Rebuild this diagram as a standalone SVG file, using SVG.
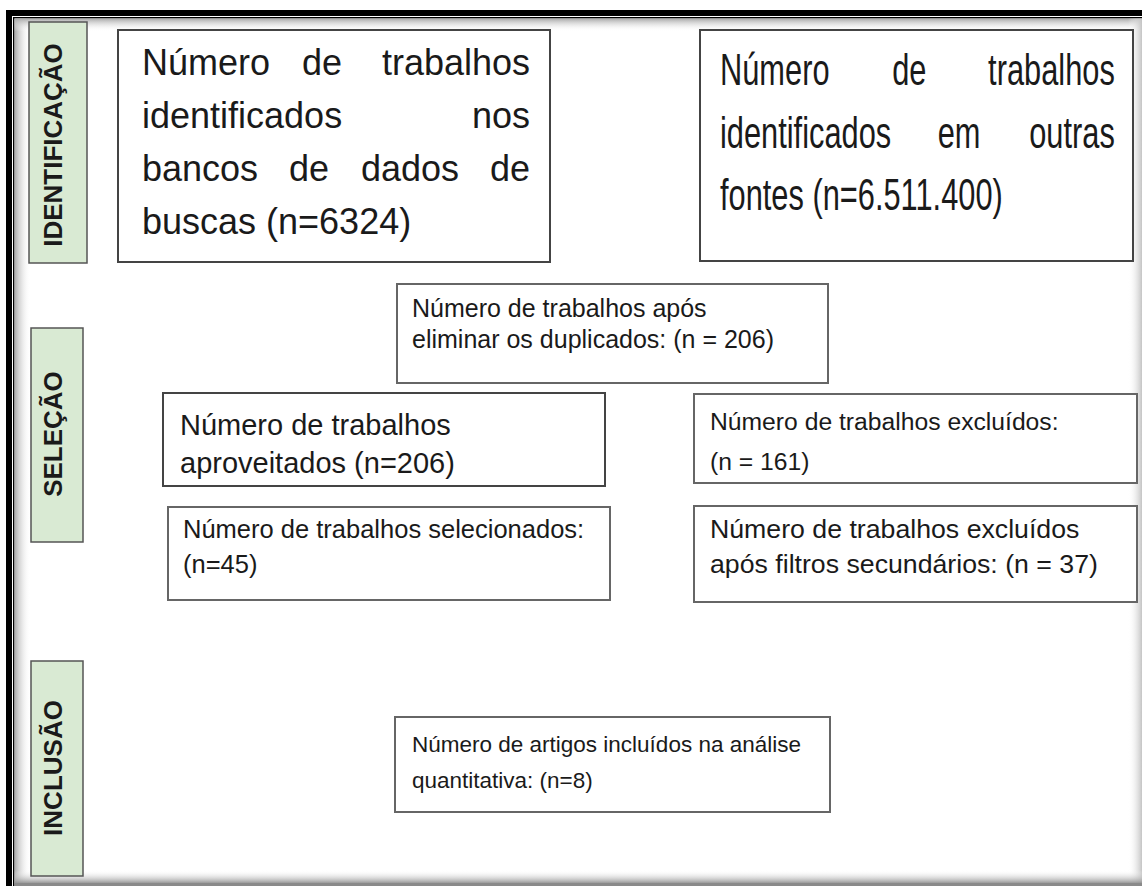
<svg xmlns="http://www.w3.org/2000/svg" width="1142" height="886" viewBox="0 0 1142 886">
<defs>
<linearGradient id="gl" x1="0" y1="0" x2="1" y2="0"><stop offset="0" stop-color="#a8a8a8"/><stop offset="1" stop-color="#fff" stop-opacity="0"/></linearGradient>
<linearGradient id="gt" x1="0" y1="0" x2="0" y2="1"><stop offset="0" stop-color="#a8a8a8"/><stop offset="1" stop-color="#fff" stop-opacity="0"/></linearGradient>
<linearGradient id="gr" x1="0" y1="0" x2="1" y2="0"><stop offset="0" stop-color="#fff" stop-opacity="0"/><stop offset="1" stop-color="#c4c4c4"/></linearGradient>
<linearGradient id="gb" x1="0" y1="0" x2="0" y2="1"><stop offset="0" stop-color="#fff" stop-opacity="0"/><stop offset="1" stop-color="#8a8a8a"/></linearGradient>
<style>
.box{fill:#fff;stroke:#666;stroke-width:2}
.dark{stroke:#444}
.lab{fill:#d9ead3;stroke:#555;stroke-width:1.5}
.lt{font-family:"Liberation Sans",Arial,sans-serif;font-weight:bold;font-size:26px;fill:#1a1a1a;text-anchor:middle}
.t{font-family:"Liberation Sans",Arial,sans-serif;fill:#1a1a1a}
.e{text-anchor:end}
</style>
</defs>
<rect x="0" y="0" width="1142" height="886" fill="#fff"/>
<g id="frame">
<rect x="9" y="13" width="1140" height="880" fill="none" stroke="#000" stroke-width="6"/>
<rect x="13.75" y="17.75" width="1140" height="880" fill="none" stroke="#000" stroke-width="1.5"/>
<rect x="14.5" y="18.5" width="16" height="866" fill="url(#gl)"/>
<rect x="14.5" y="18.5" width="1128" height="13" fill="url(#gt)"/>
<rect x="1128" y="18.5" width="14" height="868" fill="url(#gr)"/>
<rect x="14.5" y="870" width="1128" height="14" fill="url(#gb)"/>
<rect x="14.5" y="883" width="1128" height="3" fill="#8a8a8a"/>
</g>
<g id="label-identificacao">
<rect class="lab" x="29" y="22" width="58" height="241"/>
<text class="lt" transform="translate(62,145) rotate(-90)">IDENTIFICAÇÃO</text>
</g>
<g id="label-selecao">
<rect class="lab" x="31" y="328" width="52" height="214"/>
<text class="lt" transform="translate(62,434) rotate(-90)">SELEÇÃO</text>
</g>
<g id="label-inclusao">
<rect class="lab" x="31" y="661" width="52" height="215"/>
<text class="lt" transform="translate(62,768) rotate(-90)">INCLUSÃO</text>
</g>
<g id="node-bancos">
<rect class="box dark" x="118" y="30" width="432" height="232"/>
<g class="t" font-size="36">
<text x="142" y="75">Número</text>
<text x="302" y="75">de</text>
<text class="e" x="530" y="75">trabalhos</text>
<text x="142" y="128">identificados</text>
<text class="e" x="530" y="128">nos</text>
<text x="142" y="181">bancos</text>
<text x="289" y="181">de</text>
<text x="361" y="181">dados</text>
<text class="e" x="530" y="181">de</text>
<text x="142" y="234">buscas (n=6324)</text>
</g>
</g>
<g id="node-outras">
<rect class="box dark" x="700" y="30" width="433" height="231"/>
<g class="t" font-size="44" transform="translate(720,0) scale(0.7,1)">
<text x="0" y="85">Número</text>
<text x="246" y="85">de</text>
<text class="e" x="564" y="85">trabalhos</text>
<text x="0" y="148">identificados</text>
<text x="311" y="148">em</text>
<text class="e" x="564" y="148">outras</text>
<text x="0" y="210">fontes (n=6.511.400)</text>
</g>
</g>
<g id="node-duplicados">
<rect class="box" x="397" y="284" width="431" height="99"/>
<g class="t" font-size="25">
<text x="412" y="317">Número de trabalhos após</text>
<text x="412" y="348">eliminar os duplicados: (n = 206)</text>
</g>
</g>
<g id="node-aproveitados">
<rect class="box dark" x="163" y="393" width="442" height="93"/>
<g class="t" font-size="29">
<text x="180" y="435">Número de trabalhos</text>
<text x="180" y="473">aproveitados (n=206)</text>
</g>
</g>
<g id="node-excluidos">
<rect class="box" x="694" y="394" width="443" height="89"/>
<g class="t" font-size="24.7">
<text x="710" y="430">Número de trabalhos excluídos:</text>
<text x="710" y="470">(n = 161)</text>
</g>
</g>
<g id="node-selecionados">
<rect class="box" x="168" y="507" width="442" height="93"/>
<g class="t" font-size="25.5">
<text x="183" y="538">Número de trabalhos selecionados:</text>
<text x="183" y="573">(n=45)</text>
</g>
</g>
<g id="node-excluidos-secundarios">
<rect class="box" x="694" y="506" width="443" height="96"/>
<g class="t" font-size="26.7">
<text x="710" y="538">Número de trabalhos excluídos</text>
<text x="710" y="573">após filtros secundários: (n = 37)</text>
</g>
</g>
<g id="node-incluidos">
<rect class="box" x="395" y="717" width="435" height="95"/>
<g class="t" font-size="22.5">
<text x="412" y="752">Número de artigos incluídos na análise</text>
<text x="412" y="788">quantitativa: (n=8)</text>
</g>
</g>
<g id="connectors"/>
</svg>
